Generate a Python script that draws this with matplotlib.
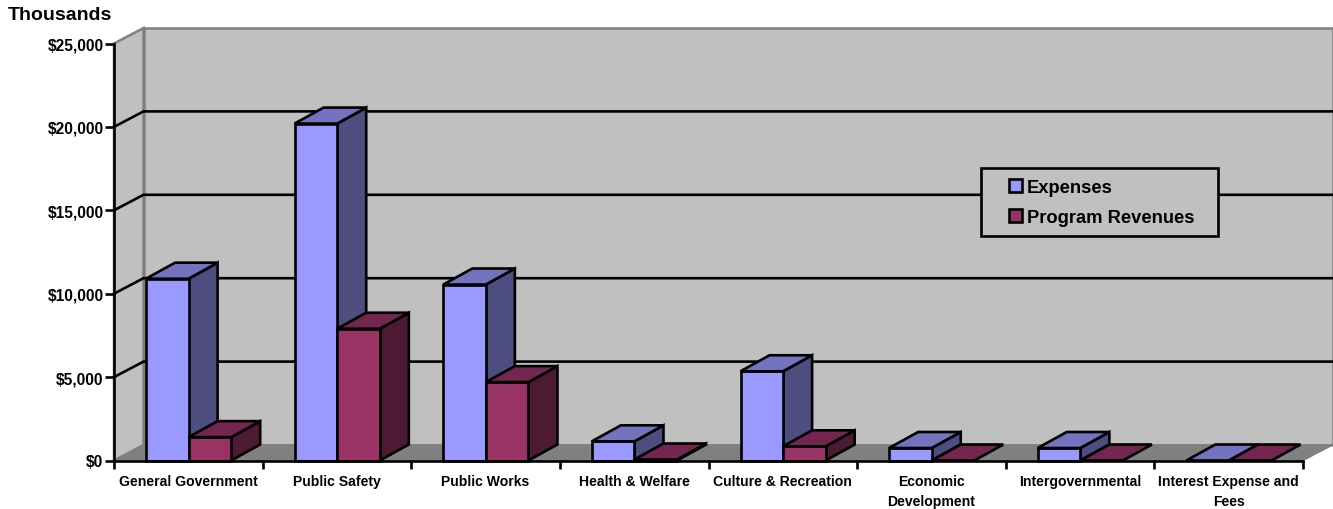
import matplotlib
matplotlib.use("Agg")
import matplotlib.pyplot as plt
from matplotlib.patches import Polygon, Patch, Rectangle
from matplotlib.ticker import FuncFormatter

plt.rcParams['font.family'] = ['Liberation Sans', 'DejaVu Sans']
plt.rcParams['font.weight'] = 'bold'

categories = ['General Government', 'Public Safety', 'Public Works', 'Health & Welfare',
              'Culture & Recreation', 'Economic\nDevelopment', 'Intergovernmental',
              'Interest Expense and\nFees']
expenses = [10900, 20200, 10550, 1150, 5350, 750, 750, 0]
revenues = [1400, 7900, 4700, 60, 850, 0, 0, 0]
y_ticks = [0, 5000, 10000, 15000, 20000, 25000]

W, H = 1333, 510
left, right, top, bottom = 114, 1303, 44.5, 461.5
px_x = 8 / (right - left)
px_y = 25000 / (bottom - top)

fig = plt.figure(figsize=(W / 100, H / 100), dpi=100)
ax = fig.add_axes([left / W, 1 - bottom / H, (right - left) / W, (bottom - top) / H])
ax.set_xlim(0, 8)
ax.set_ylim(0, 25000)
ax.patch.set_visible(False)

# depth of the fake 3d box
wall_dx, wall_dy = 29.5 * px_x, 15.5 * px_y
bar_dx, bar_dy = 29 * px_x, 16 * px_y
lw = 1.9

# walls and floor
ax.add_patch(Polygon([(wall_dx, wall_dy), (8 + wall_dx, wall_dy), (8 + wall_dx, 25000 + wall_dy),
                      (wall_dx, 25000 + wall_dy)], fc='#c0c0c0', ec='#808080', lw=1.8, clip_on=False, zorder=1))
ax.add_patch(Polygon([(0, 0), (wall_dx, wall_dy), (wall_dx, 25000 + wall_dy), (0, 25000)],
                     fc='#c0c0c0', ec='#808080', lw=1.8, clip_on=False, zorder=1))
ax.add_patch(Polygon([(0, 0), (8, 0), (8 + wall_dx, wall_dy), (wall_dx, wall_dy)],
                     fc='#808080', ec='#808080', lw=1, clip_on=False, zorder=1))

# gridlines run up the side wall and along the back
for v in y_ticks[1:-1]:
    ax.plot([0, wall_dx, 8 + wall_dx], [v, v + wall_dy, v + wall_dy], color='black', lw=lw,
            clip_on=False, zorder=2, solid_joinstyle='miter')


def bar3d(x0, width, val, front, roof, side, z):
    x1 = x0 + width
    common = dict(ec='black', lw=lw, clip_on=False, zorder=z, joinstyle='miter')
    if val > 0:
        ax.add_patch(Polygon([(x1, 0), (x1 + bar_dx, bar_dy), (x1 + bar_dx, val + bar_dy), (x1, val)],
                             fc=side, **common))
        ax.add_patch(Polygon([(x0, 0), (x1, 0), (x1, val), (x0, val)], fc=front, **common))
    ax.add_patch(Polygon([(x0, val), (x1, val), (x1 + bar_dx, val + bar_dy), (x0 + bar_dx, val + bar_dy)],
                         fc=roof, **common))


bar_off = 32 * px_x
bar_w = 42.6 * px_x
for i in range(len(categories)):
    bar3d(i + bar_off, bar_w, expenses[i], '#9999ff', '#7373bf', '#4d4d80', 3 + i)
    bar3d(i + bar_off + bar_w, bar_w, revenues[i], '#993366', '#732650', '#4d1a33', 3.5 + i)

# axes
for s in ['top', 'right']:
    ax.spines[s].set_visible(False)
for s in ['left', 'bottom']:
    ax.spines[s].set_linewidth(lw)
    ax.spines[s].set_zorder(20)
ax.set_yticks(y_ticks)
ax.yaxis.set_major_formatter(FuncFormatter(lambda v, p: '${:,.0f}'.format(v)))
ax.tick_params(axis='y', length=6.5, width=lw, pad=1, labelsize=11.2)
ax.set_xticks(range(9))
ax.set_xticklabels([])
ax.set_xticks([i + 0.5 for i in range(8)], categories, minor=True, fontsize=10.1, linespacing=1.5)
ax.tick_params(axis='x', which='major', length=6, width=lw)
ax.tick_params(axis='x', which='minor', length=0, pad=10)

fig.text(8 / W, 1 - 15 / H, 'Thousands', fontsize=14, va='center', ha='left')

# legend box is wider than tall padding allows, so the frame is its own patch
fig.add_artist(Rectangle((981 / W, 1 - 237 / H), 237 / W, 68 / H, transform=fig.transFigure,
                         fc='#c0c0c0', ec='black', lw=lw, zorder=29))
handles = [Patch(fc='#9999ff', ec='black', lw=lw), Patch(fc='#993366', ec='black', lw=lw)]
leg = fig.legend(handles, ['Expenses', 'Program Revenues'], loc='center left',
                 bbox_to_anchor=(1009 / W, 1 - 203.5 / H), bbox_transform=fig.transFigure,
                 fontsize=13.2, frameon=False, handlelength=0.72, handleheight=0.72,
                 handletextpad=0.25, labelspacing=0.72, borderpad=0, borderaxespad=0)
leg.set_zorder(30)

fig.savefig('out.png', dpi=100)
